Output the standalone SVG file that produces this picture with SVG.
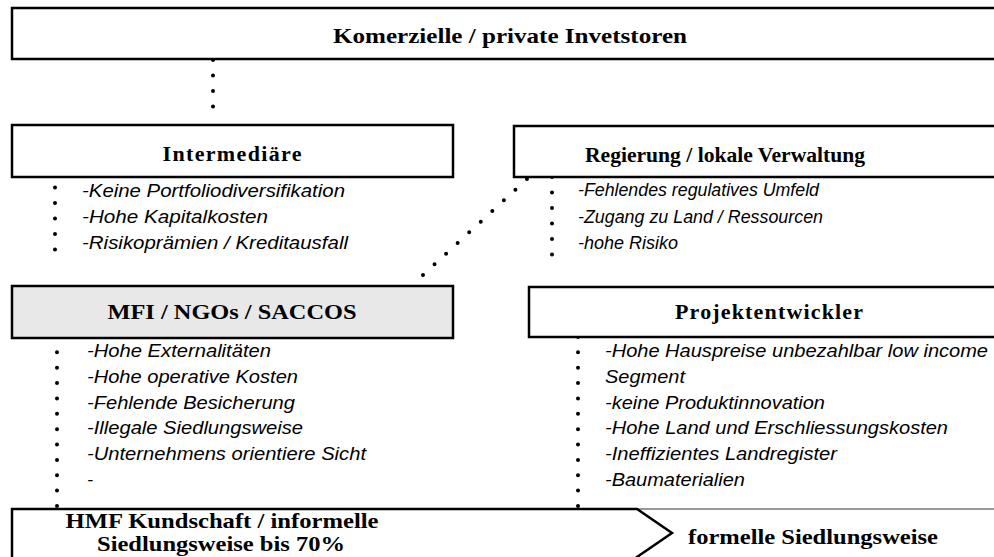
<svg xmlns="http://www.w3.org/2000/svg" width="994" height="557" viewBox="0 0 994 557">
<style>
.box{fill:#fff;stroke:#000;stroke-width:2.5}
.grey{fill:#e8e8e8}
.t{font-family:"Liberation Serif","Times New Roman",serif;font-weight:bold;font-size:22px;fill:#000;text-anchor:middle}
.i{font-family:"Liberation Sans",Arial,sans-serif;font-style:italic;font-size:18.5px;fill:#000}
.dot{fill:none;stroke:#000;stroke-width:4;stroke-linecap:round}
</style>
<rect width="994" height="557" fill="#fff"/>
<g id="connectors">
<line class="dot" x1="213" y1="60" x2="213" y2="122" stroke-dasharray="0 15.5"/>
<line class="dot" x1="55" y1="172" x2="55" y2="265" stroke-dasharray="0 15.5"/>
<line class="dot" x1="423" y1="275" x2="527" y2="179" stroke-dasharray="0 15.72"/>
<line class="dot" x1="552" y1="177" x2="552" y2="270" stroke-dasharray="0 15.5"/>
<line class="dot" x1="57" y1="337" x2="57" y2="506" stroke-dasharray="0 15.36"/>
<line class="dot" x1="578" y1="337" x2="578" y2="506" stroke-dasharray="0 15.36"/>
</g>
<g id="investoren">
<rect class="box" x="12" y="8" width="990" height="51"/>
<text class="t" x="510" y="43" font-size="23" textLength="354" lengthAdjust="spacingAndGlyphs">Komerzielle / private  Invetstoren</text>
</g>
<g id="intermediaere">
<rect class="box" x="12" y="125" width="441" height="52"/>
<text class="t" x="232" y="161" textLength="139" lengthAdjust="spacing">Intermediäre</text>
<text class="i" x="82" y="197" textLength="263" lengthAdjust="spacingAndGlyphs">-Keine Portfoliodiversifikation</text>
<text class="i" x="82" y="223" textLength="186" lengthAdjust="spacingAndGlyphs">-Hohe Kapitalkosten</text>
<text class="i" x="82" y="249" textLength="266" lengthAdjust="spacingAndGlyphs">-Risikoprämien / Kreditausfall</text>
</g>
<g id="regierung">
<rect class="box" x="514" y="126" width="490" height="51"/>
<text class="t" x="725" y="162" textLength="280" lengthAdjust="spacingAndGlyphs">Regierung / lokale Verwaltung</text>
<text class="i" x="578" y="196" textLength="241" lengthAdjust="spacingAndGlyphs">-Fehlendes regulatives Umfeld</text>
<text class="i" x="578" y="223" textLength="245" lengthAdjust="spacingAndGlyphs">-Zugang zu Land / Ressourcen</text>
<text class="i" x="578" y="249" textLength="100" lengthAdjust="spacingAndGlyphs">-hohe Risiko</text>
</g>
<g id="mfi">
<rect class="box grey" x="12" y="286" width="441" height="52"/>
<text class="t" x="232" y="319" textLength="249" lengthAdjust="spacingAndGlyphs">MFI / NGOs / SACCOS</text>
<text class="i" x="87" y="357" textLength="184" lengthAdjust="spacingAndGlyphs">-Hohe Externalitäten</text>
<text class="i" x="87" y="383" textLength="211" lengthAdjust="spacingAndGlyphs">-Hohe operative Kosten</text>
<text class="i" x="87" y="409" textLength="208" lengthAdjust="spacingAndGlyphs">-Fehlende Besicherung</text>
<text class="i" x="87" y="434" textLength="216" lengthAdjust="spacingAndGlyphs">-Illegale Siedlungsweise</text>
<text class="i" x="87" y="460" textLength="279" lengthAdjust="spacingAndGlyphs">-Unternehmens orientiere Sicht</text>
<text class="i" x="87" y="486">-</text>
</g>
<g id="projektentwickler">
<rect class="box" x="529" y="287" width="475" height="50"/>
<text class="t" x="769" y="319" textLength="188" lengthAdjust="spacing">Projektentwickler</text>
<text class="i" x="605" y="357" textLength="383" lengthAdjust="spacingAndGlyphs">-Hohe Hauspreise unbezahlbar low income</text>
<text class="i" x="605" y="383" textLength="80" lengthAdjust="spacingAndGlyphs">Segment</text>
<text class="i" x="605" y="409" textLength="220" lengthAdjust="spacingAndGlyphs">-keine Produktinnovation</text>
<text class="i" x="605" y="434" textLength="343" lengthAdjust="spacingAndGlyphs">-Hohe Land und Erschliessungskosten</text>
<text class="i" x="605" y="460" textLength="232" lengthAdjust="spacingAndGlyphs">-Ineffizientes Landregister</text>
<text class="i" x="605" y="486" textLength="140" lengthAdjust="spacingAndGlyphs">-Baumaterialien</text>
</g>
<g id="formell">
<path d="M637 509 L1004 509 L1004 570 L655 570" fill="none" stroke="#777" stroke-width="1.5"/>
<text class="t" x="813" y="544" textLength="250" lengthAdjust="spacingAndGlyphs">formelle Siedlungsweise</text>
</g>
<g id="hmf">
<path d="M12 570 L12 509 L637 509 L672 533 L637 557 L620 570" fill="#fff" stroke="#000" stroke-width="2.5" stroke-linejoin="miter"/>
<text class="t" x="222" y="528" font-size="20" textLength="313" lengthAdjust="spacingAndGlyphs">HMF Kundschaft / informelle</text>
<text class="t" x="221" y="551" font-size="20" textLength="248" lengthAdjust="spacingAndGlyphs">Siedlungsweise bis 70%</text>
</g>
</svg>
